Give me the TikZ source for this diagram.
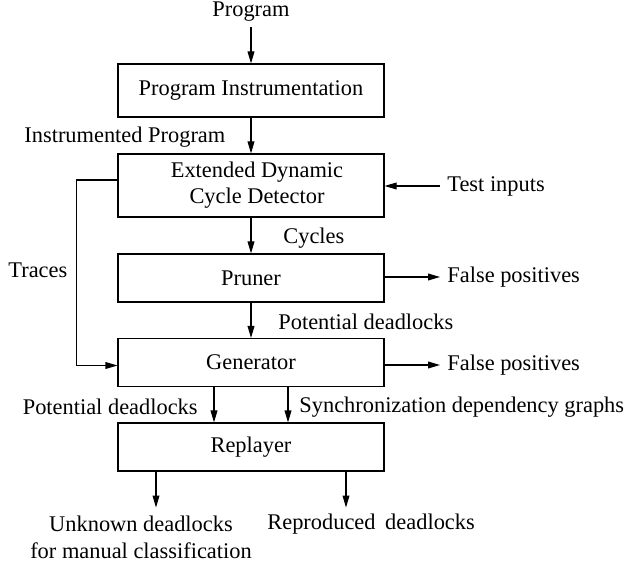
\documentclass[tikz,border=0pt]{standalone}
\usepackage{fontspec}
\setmainfont{Liberation Serif}
\usetikzlibrary{arrows.meta}
\begin{document}
\begin{tikzpicture}[x=0.5pt,y=-0.5pt,
  font=\rmfamily\fontsize{11.2}{13}\selectfont,
  box/.style={draw,line width=0.55pt,minimum width=133pt,inner sep=0pt,align=center},
  lbl/.style={inner sep=0pt},
  arr/.style={line width=0.55pt,-{Triangle[length=6pt,width=3.4pt]}}]
\useasboundingbox (0,0) rectangle (624,565);
% boxes
\node[box,minimum height=26.5pt] (b1) at (251,90.5) {Program Instrumentation};
\node[box,minimum height=31.5pt] (b2) at (251,185.5) {\hspace{6pt}Extended Dynamic\\\hspace{6pt}Cycle Detector};
\node[box,minimum height=24pt] (b3) at (251,278) {Pruner};
\node[box,minimum height=24pt] (b4) at (251,362.5) {Generator};
\node[box,minimum height=24pt] (b5) at (251,447) {Replayer};
% labels
\node[lbl] (prog) at (251,12) {Program};
\node[lbl,anchor=west] (instr) at (24,137) {Instrumented Program};
\node[lbl,anchor=west] (test) at (447,186) {Test inputs};
\node[lbl,anchor=west] (cyc) at (283,238) {Cycles};
\node[lbl,anchor=west] (trace) at (8,270) {Traces};
\node[lbl,anchor=west] (fp1) at (447,277) {False positives};
\node[lbl,anchor=west] (pd1) at (278,322) {Potential deadlocks};
\node[lbl,anchor=west] (fp2) at (447,365) {False positives};
\node[lbl,anchor=east] (pd2) at (198,407) {Potential deadlocks};
\node[lbl,anchor=west] (sdg) at (299,407) {Synchronization dependency graphs};
\node[lbl,align=center] (unk) at (141,537) {Unknown deadlocks\\[0.5pt]for manual classification};
\node[lbl,anchor=west] (rep) at (267,524) {Reproduced\hspace{2pt} deadlocks};
% connectors
\draw[arr] ([yshift=-2.5pt]prog.south) -- (b1.north);
\draw[arr] (b1) -- (b2);
\draw[arr] ([xshift=-3.5pt]test.west) -- (b2.east |- test.west);
\draw[arr] (b2) -- (b3);
\draw[arr] (b3) -- (b4);
\draw[arr] (b3.east |- fp1.west) -- ([xshift=-3.5pt]fp1.west);
\draw[arr] (b4.east |- fp2.west) -- ([xshift=-3.5pt]fp2.west);
\draw[arr] ([yshift=2.75pt]b2.west) -- ++(-41,0) |- ([yshift=-1.5pt]b4.west);
\draw[arr] ([xshift=-18.5pt]b4.south) -- ([xshift=-18.5pt]b5.north);
\draw[arr] ([xshift=18.5pt]b4.south) -- ([xshift=18.5pt]b5.north);
\coordinate (e1) at ([xshift=-47.5pt,yshift=-18pt]b5.south);
\coordinate (e2) at ([xshift=47.5pt,yshift=-18pt]b5.south);
\draw[arr] ([xshift=-47.5pt]b5.south) -- (e1);
\draw[arr] ([xshift=47.5pt]b5.south) -- (e2);
\end{tikzpicture}
\end{document}
